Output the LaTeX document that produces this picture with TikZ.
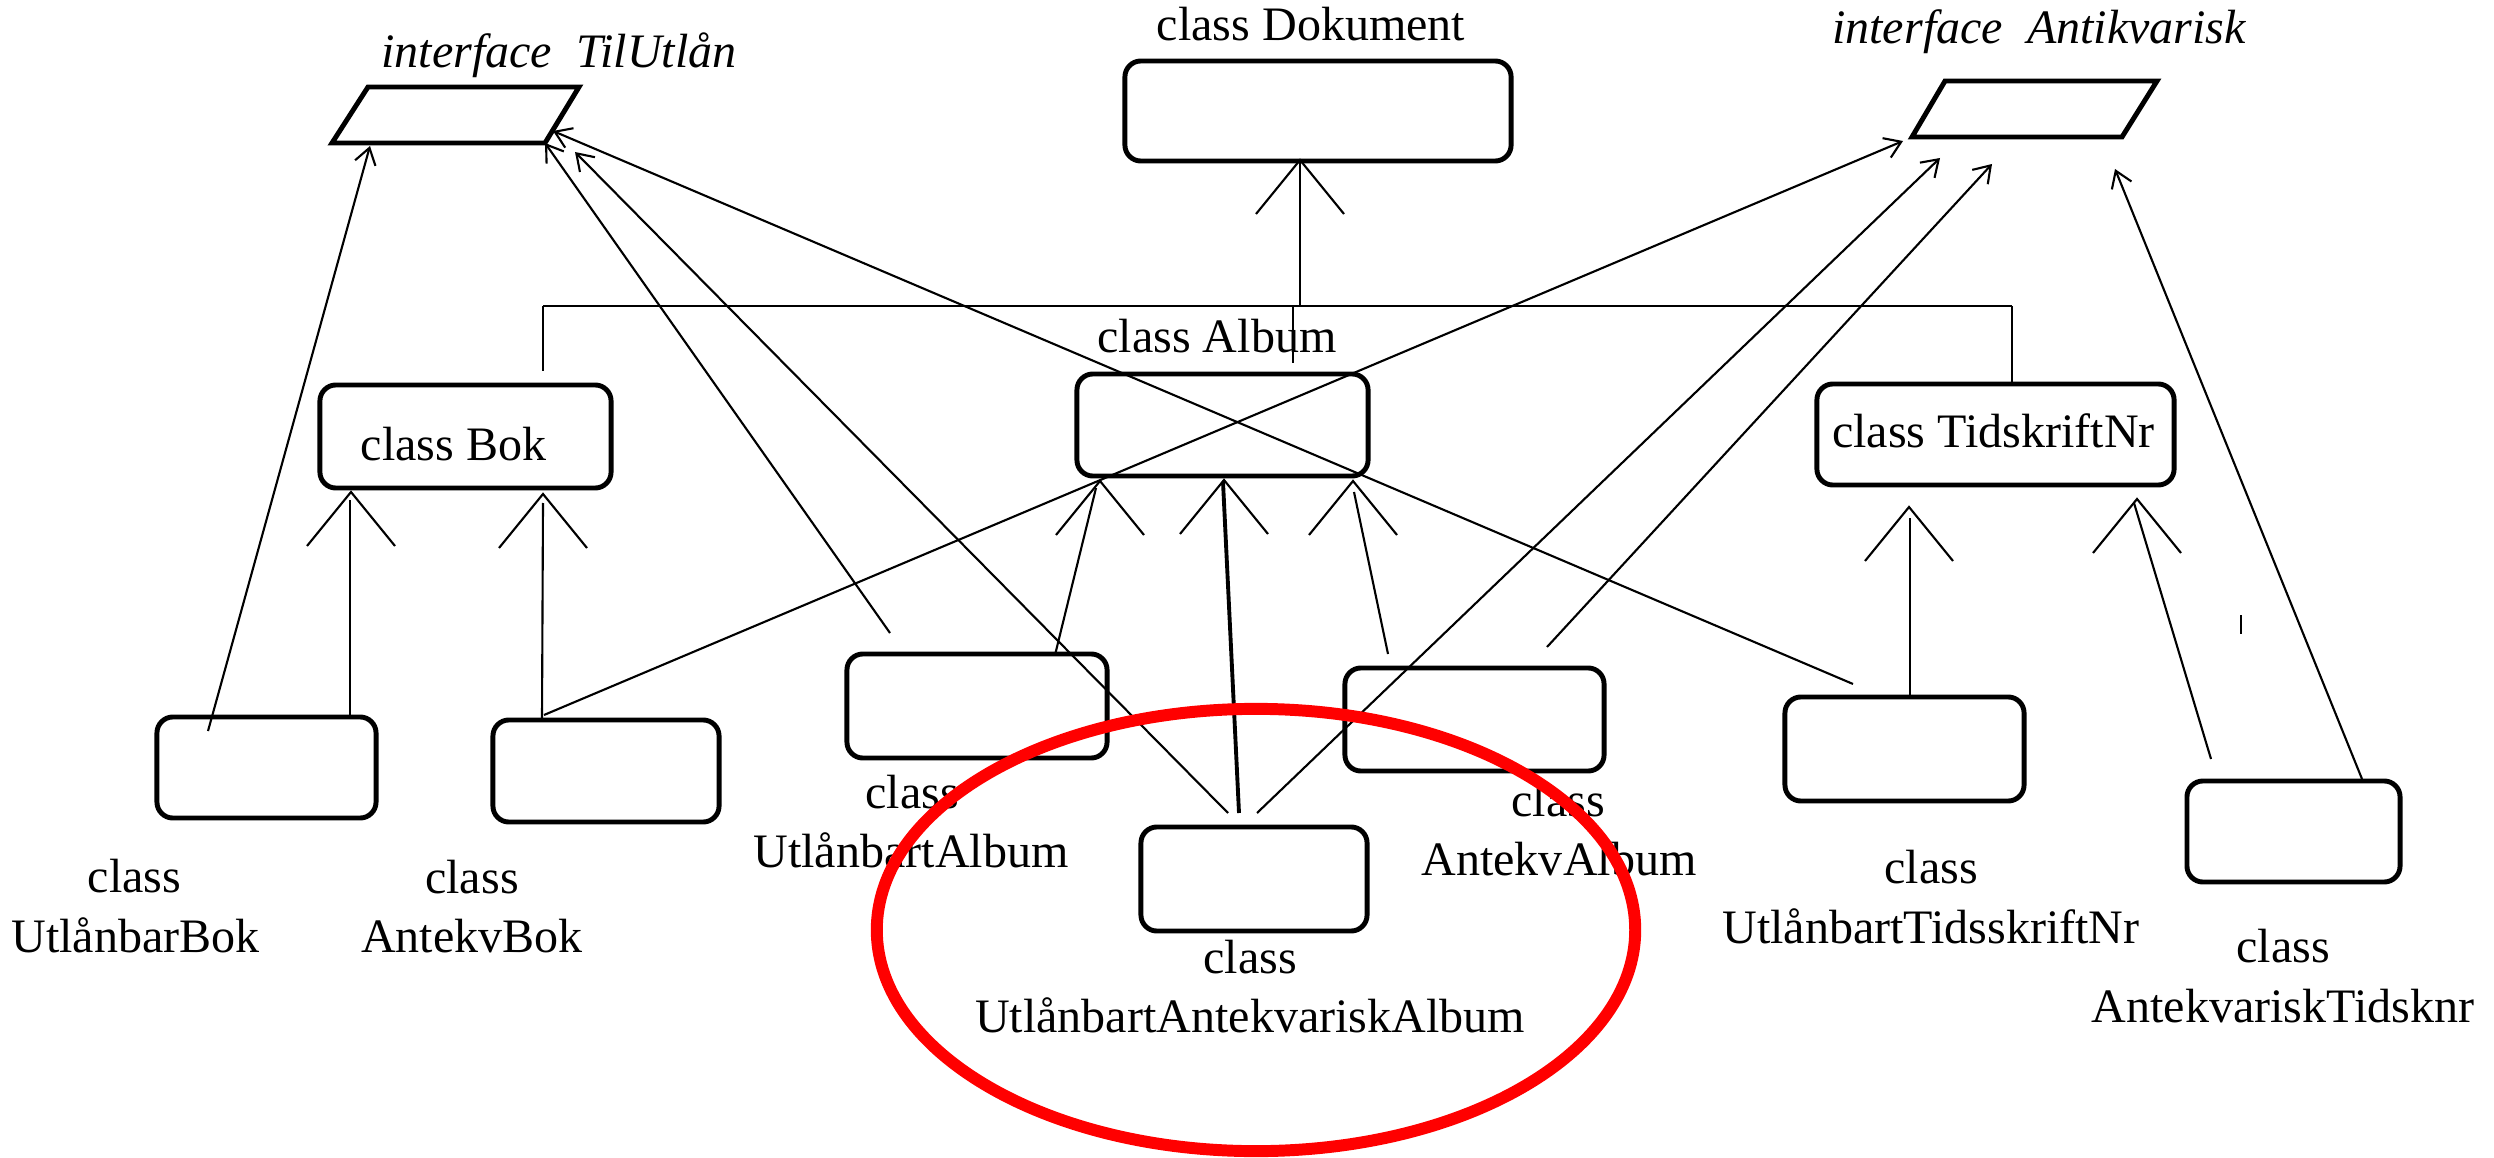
\documentclass[tikz,border=0pt]{standalone}
\usepackage{fontspec}
\setmainfont{Liberation Serif}
\usetikzlibrary{arrows.meta}
\begin{document}
\begin{tikzpicture}[x=0.01cm,y=-0.01cm,
  txt/.style={font=\fontsize{13.66pt}{17pt}\selectfont, inner sep=0pt, anchor=base},
  ital/.style={txt, font=\fontsize{13.66pt}{17pt}\selectfont\itshape},
  cbox/.style={draw, line width=1.4pt, rounded corners=0.16cm, inner sep=0pt},
  iface/.style={draw, line width=1.4pt, line join=miter},
  conn/.style={line width=0.6pt},
  thin/.style={line width=0.45pt},
  impl/.style={conn, -{Straight Barb[length=4.5pt,width=6pt]}},
  pics/chev/.style={code={\draw[conn] (-44,54) -- (0,0) -- (44,54);}}
]
\useasboundingbox (0,0) rectangle (2494,1158);

% interfaces
\coordinate (tu1) at (368,87);  \coordinate (tu2) at (579,87);
\coordinate (tu3) at (545,143); \coordinate (tu4) at (332,143);
\draw[iface] (tu1) -- (tu2) -- (tu3) -- (tu4) -- cycle;
\node[ital] (tuL) at (559,68) {interface\ \ TilUtlån};

\coordinate (an1) at (1945,81);  \coordinate (an2) at (2157,81);
\coordinate (an3) at (2122,137); \coordinate (an4) at (1912,137);
\draw[iface] (an1) -- (an2) -- (an3) -- (an4) -- cycle;
\node[ital] (anL) at (2039,44) {interface\ \ Antikvarisk};

% classes
\node[cbox, minimum width=3.86cm, minimum height=1.00cm] (dok) at (1318,111) {};
\node[txt] (dokL) at (1311,41) {class Dokument};

\node[cbox, minimum width=2.91cm, minimum height=1.03cm] (bok) at (465.5,436.5) {};
\node[txt] (bokL) at (453.5,460) {class Bok};

\node[cbox, minimum width=2.91cm, minimum height=1.02cm] (album) at (1222.5,425) {};
\node[txt] (albumL) at (1217,353) {class Album};

\node[cbox, minimum width=3.57cm, minimum height=1.01cm] (tid) at (1995.5,434.5) {};
\node[txt] (tidL) at (1993.5,448) {class TidskriftNr};

\node[cbox, minimum width=2.19cm, minimum height=1.01cm] (ubok) at (266.5,767.5) {};
\node[txt] (ubokL1) at (134.5,892) {class};
\node[txt] (ubokL2) at (135.5,952) {UtlånbarBok};

\node[cbox, minimum width=2.26cm, minimum height=1.02cm] (abok) at (606,771) {};
\node[txt] (abokL1) at (472,893) {class};
\node[txt] (abokL2) at (472,952) {AntekvBok};

\node[cbox, minimum width=2.60cm, minimum height=1.04cm] (ualb) at (977,706) {};
\node[txt] (ualbL1) at (912,808) {class};
\node[txt] (ualbL2) at (911,867) {UtlånbartAlbum};

\node[cbox, minimum width=2.59cm, minimum height=1.03cm] (aalb) at (1474.5,719.5) {};
\node[txt] (aalbL1) at (1558,816) {class};
\node[txt] (aalbL2) at (1559,875) {AntekvAlbum};

\node[cbox, minimum width=2.26cm, minimum height=1.04cm] (uaalb) at (1254,879) {};
\node[txt] (uaalbL1) at (1250,973) {class};
\node[txt] (uaalbL2) at (1250,1032) {UtlånbartAntekvariskAlbum};

\node[cbox, minimum width=2.39cm, minimum height=1.04cm] (utid) at (1904.5,749) {};
\node[txt] (utidL1) at (1931,883) {class};
\node[txt] (utidL2) at (1931,943) {UtlånbartTidsskriftNr};

\node[cbox, minimum width=2.13cm, minimum height=1.01cm] (atid) at (2293.5,831.5) {};
\node[txt] (atidL1) at (2283,962) {class};
\node[txt] (atidL2) at (2283,1022) {AntekvariskTidsknr};

% inheritance bus from Dokument
\coordinate (dokA) at (1300,160);
\coordinate (busL) at (543,306);
\coordinate (busR) at (2012,306);
\coordinate (busM) at (1300,306);
\coordinate (busA) at (1293,306);
\pic at (dokA) {chev};
\draw[conn] (dokA) -- (busM);
\draw[conn] (busL) -- (busR);
\draw[thin] (busL) -- (543,371);
\draw[thin] (busR) -- (tid.north -| busR);
\draw[thin] (busA) -- (1293,363);

% inheritance arrowheads under the parent classes
\coordinate (bokA1) at (351,492);  \coordinate (bokA2) at (543,494);
\coordinate (albA1) at (1100,481); \coordinate (albA2) at (1224,480);
\coordinate (albA3) at (1353,481);
\coordinate (tidA1) at (1909,507); \coordinate (tidA2) at (2137,499);
\foreach \c in {bokA1,bokA2,albA1,albA2,albA3,tidA1,tidA2} \pic at (\c) {chev};

% subclasses to parents
\draw[conn] (350,716) -- (350,500);
\draw[conn] (542,718) -- (543,503);
\draw[conn] (1055,655) -- (1096,488);
\draw[line width=1.1pt] (1239,813) -- (1223,482);
\draw[conn] (1388,654) -- (1354,492);
\draw[conn] (1910,695) -- (1910,518);
\draw[conn] (2211,759) -- (2134,503);

% realisations of the interfaces
\draw[impl] (208,731) -- (370,146);
\draw[impl] (890,633) -- (tu3);
\draw[impl] (1228,813) -- (575,152);
\draw[impl] (1853,684) -- (553,131);
\draw[impl] (544,715) -- (1903,141);
\draw[impl] (1257,813) -- (1940,158);
\draw[impl] (1547,647) -- (1992,164);
\draw[impl] (2362,779) -- (2115,169);

% stray mark
\draw[line width=0.5pt] (2241,615) -- (2241,634);

% highlight
\draw[red, line width=3.4pt] (1256,930) ellipse [x radius=3.79cm, y radius=2.21cm];
\end{tikzpicture}
\end{document}
